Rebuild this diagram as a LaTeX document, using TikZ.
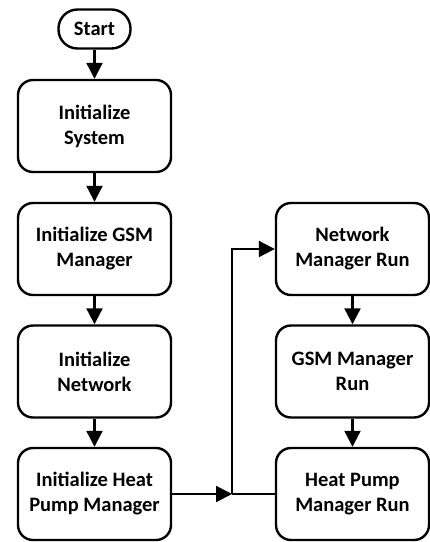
\documentclass[tikz,border=0pt]{standalone}
\usepackage{fontspec}
\setmainfont{Carlito}
\usetikzlibrary{arrows.meta}
\begin{document}
\begin{tikzpicture}[x=1pt,y=-1pt,
  box/.style={draw,line width=2.4pt,rounded corners=15pt,minimum width=153pt,minimum height=92pt,align=center,font=\bfseries\fontsize{20.5}{25}\selectfont,inner sep=0pt},
  startbox/.style={draw,line width=2.4pt,rounded corners=19pt,minimum width=72pt,minimum height=39pt,font=\bfseries\fontsize{20.5}{25}\selectfont,inner sep=0pt},
  conn/.style={line width=2.2pt,-{Triangle[length=16pt,width=16pt]}},
  plain/.style={line width=2.2pt}]
\useasboundingbox (0,0) rectangle (430,542);
\node[startbox] (start) at (94.5,29) {Start};
\node[box] (s1) at (94.5,126) {Initialize\\System};
\node[box] (s2) at (94.5,249) {Initialize GSM\\Manager};
\node[box] (s3) at (94.5,371.5) {Initialize\\Network};
\node[box] (s4) at (94.5,494) {Initialize Heat\\Pump Manager};
\node[box] (r1) at (352.5,249) {Network\\Manager Run};
\node[box] (r2) at (352.5,371.5) {GSM Manager\\Run};
\node[box] (r3) at (352.5,494) {Heat Pump\\Manager Run};
\coordinate (j) at (232,494);
\draw[conn] (start) -- (s1);
\draw[conn] (s1) -- (s2);
\draw[conn] (s2) -- (s3);
\draw[conn] (s3) -- (s4);
\draw[conn] (s4) -- (j);
\draw[plain] (j) -- (r3);
\draw[conn] (j) |- (r1);
\draw[conn] (r1) -- (r2);
\draw[conn] (r2) -- (r3);
\end{tikzpicture}
\end{document}
